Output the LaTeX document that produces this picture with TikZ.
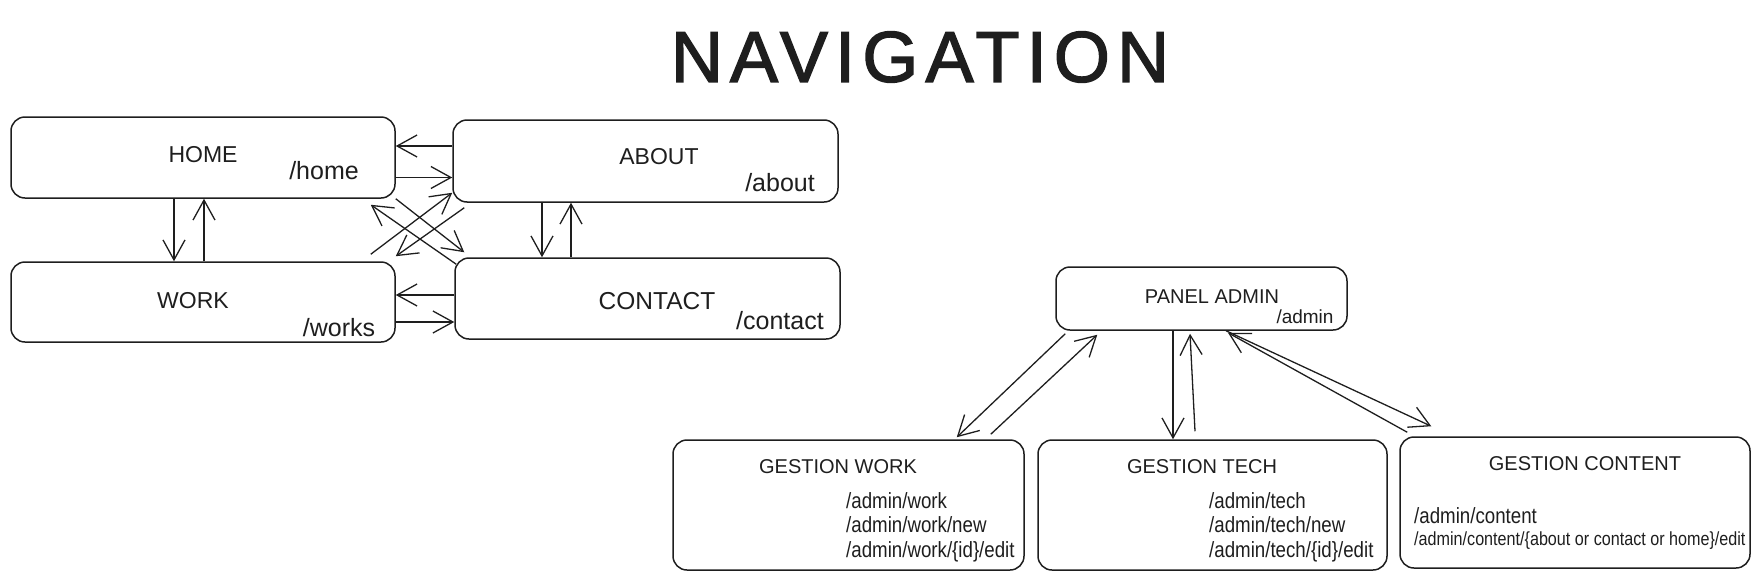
\documentclass[tikz,border=0pt]{standalone}
\usepackage{fontspec}
\setmainfont{Liberation Sans}
\newfontfamily\narrowfont[FakeStretch=0.85]{Liberation Sans}
\newfontfamily\titlefont[LetterSpace=10,FakeBold=2]{Liberation Sans}
\usetikzlibrary{arrows.meta}
\definecolor{INK}{HTML}{1E1E1E}

\begin{document}
\begin{tikzpicture}[
    x=1pt, y=-1pt,
    box/.style={draw=INK, line width=1.5pt, rounded corners=14pt, inner sep=0pt},
    pagelbl/.style={font=\fontsize{23}{26}\selectfont, text=INK},
    glbl/.style={font=\fontsize{20}{24}\selectfont, text=INK},
    url/.style={font=\fontsize{25}{28}\selectfont, text=INK},
    sub/.style={font=\narrowfont\fontsize{22}{26}\selectfont, text=INK, anchor=west, inner sep=0pt},
    arr/.style={draw=INK, line width=1.3pt, -{Straight Barb[length=20pt,width=22pt]}},
  ]
  \useasboundingbox (0,0) rectangle (1760,581);

  \node[font=\titlefont\fontsize{72}{76}\selectfont, text=INK] (title) at (920,57) {NAVIGATION};

  % public pages
  \node[box, minimum width=384, minimum height=81] (home) at (203,157.5) {};
  \node[box, minimum width=385, minimum height=82] (about) at (645.5,161) {};
  \node[box, minimum width=384, minimum height=80] (work) at (203,302) {};
  \node[box, minimum width=385, minimum height=81] (contact) at (647.5,298.5) {};

  \node[pagelbl] (homelbl) at (203,155) {HOME};
  \node[url] (homeurl) at (324,171) {/home};
  \node[pagelbl] (aboutlbl) at (659,157) {ABOUT};
  \node[url] (abouturl) at (780,183) {/about};
  \node[pagelbl] (worklbl) at (193,301) {WORK};
  \node[url] (workurl) at (339,328) {/works};
  \node[pagelbl, font=\fontsize{24.5}{28}\selectfont] (contactlbl) at (657,301) {CONTACT};
  \node[url] (contacturl) at (780,321) {/contact};

  % admin pages
  \node[box, minimum width=291, minimum height=63] (admin) at (1201.5,298.5) {};
  \node[box, minimum width=351, minimum height=130] (gwork) at (848.5,505) {};
  \node[box, minimum width=349, minimum height=130] (gtech) at (1212.5,505) {};
  \node[box, minimum width=350, minimum height=131] (gcontent) at (1575,502.5) {};

  \node[glbl] (adminlbl) at (1212,297) {PANEL ADMIN};
  \node[url, font=\fontsize{19}{22}\selectfont] (adminurl) at (1305,317) {/admin};

  \node[glbl] (gworklbl) at (838,467) {GESTION WORK};
  \node[sub] (gwork1) at (846,501) {/admin/work};
  \node[sub] (gwork2) at (846,525) {/admin/work/new};
  \node[sub] (gwork3) at (846,552) {/admin/work/\{id\}/edit};

  \node[glbl] (gtechlbl) at (1202,467) {GESTION TECH};
  \node[sub] (gtech1) at (1209,501) {/admin/tech};
  \node[sub] (gtech2) at (1209,525) {/admin/tech/new};
  \node[sub] (gtech3) at (1209,552) {/admin/tech/\{id\}/edit};

  \node[glbl] (gcontentlbl) at (1585,464) {GESTION CONTENT};
  \node[sub] (gcontent1) at (1414,516) {/admin/content};
  \node[sub, font=\narrowfont\fontsize{19}{22}\selectfont] (gcontent2) at (1414,541) {/admin/content/\{about or contact or home\}/edit};

  % links between public pages
  \draw[arr] ([yshift=15pt]about.west) -- ([yshift=15pt]about.west -| home.east);
  \draw[arr] ([yshift=-20pt]home.east) -- ([yshift=-20pt]home.east -| about.west);
  \draw[arr] ([xshift=-29pt]home.south) -- ([xshift=-29pt]home.south |- work.north);
  \draw[arr] ([xshift=1pt]work.north) -- ([xshift=1pt]work.north |- home.south);
  \draw[arr] ([xshift=-103.5pt]about.south) -- ([xshift=-103.5pt]about.south |- contact.north);
  \draw[arr] ([xshift=-76.5pt]contact.north) -- ([xshift=-76.5pt]contact.north |- about.south);
  \draw[arr] ([yshift=3.5pt]contact.west) -- ([yshift=3.5pt]contact.west -| work.east);
  \draw[arr] ([yshift=-20pt]work.east) -- ([yshift=-20pt]work.east -| contact.west);
  \draw[arr] (home.south east) -- ([shift={(10pt,5pt)}]contact.north west);
  \draw[arr] ([shift={(2pt,-7pt)}]contact.north west) -- ([shift={(-25pt,-6pt)}]home.south east);
  \draw[arr] ([shift={(-25pt,7pt)}]work.north east) -- ([shift={(0pt,10pt)}]about.south west);
  \draw[arr] ([shift={(12pt,-5pt)}]about.south west) -- ([shift={(0pt,5pt)}]work.north east);

  % links from the admin panel
  \draw[arr] ([shift={(10pt,-3pt)}]admin.south west) -- ([shift={(-68pt,2pt)}]gwork.north east);
  \draw[arr] ([shift={(-34pt,5pt)}]gwork.north east) -- ([shift={(42pt,-4pt)}]admin.south west);
  \draw[arr] ([xshift=-28.5pt]admin.south) -- ([xshift=-28.5pt]admin.south |- gtech.north);
  \draw[arr] ([shift={(-17.5pt,8pt)}]gtech.north) -- ([shift={(-11.5pt,-3pt)}]admin.south);
  \draw[arr] ([xshift=24.5pt]admin.south) -- ([shift={(32pt,10pt)}]gcontent.north west);
  \draw[arr] ([shift={(8pt,4pt)}]gcontent.north west) -- ([shift={(26.5pt,-2pt)}]admin.south);

\end{tikzpicture}
\end{document}
